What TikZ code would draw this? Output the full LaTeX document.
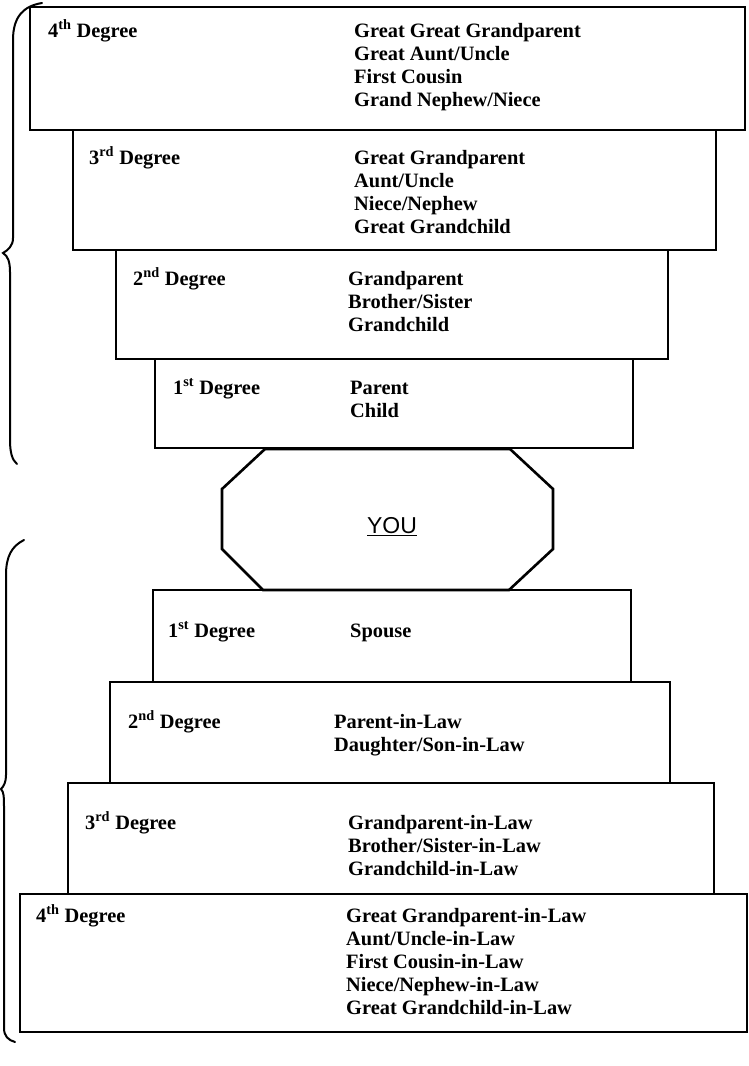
\documentclass[tikz,border=0pt]{standalone}
\usepackage{fontspec}
\setmainfont{Liberation Serif}
\newfontfamily\yousans{Liberation Sans}
\usetikzlibrary{positioning}

\begin{document}
\begin{tikzpicture}[x=1pt, y=-1pt,
    degbox/.style={draw, line width=1.3pt, inner sep=0pt},
    deglab/.style={anchor=base west, inner sep=0pt, font=\bfseries\fontsize{20.4}{23}\selectfont},
    rel/.style={deglab},
    octo/.style={draw, line width=2.6pt, line join=miter},
    brace/.style={draw, line width=2pt, line cap=round}]
\useasboundingbox (0,0) rectangle (749,1066);
% boxes, blood side on top, in-law side below
\foreach \nm/\xa/\ya/\xb/\yb in {u4/30/7/745/130, u3/73/130/716/250, u2/116/250/668/359, u1/155/359/633/448,
                                  l1/153/590/631/682, l2/110/682/670/783, l3/68/783/714/894, l4/20/894/747/1032} {
    \node[degbox, minimum width={\xb-\xa}, minimum height={\yb-\ya}] (\nm) at ({(\xa+\xb)/2},{(\ya+\yb)/2}) {};
}
% degree labels
\foreach \nm/\x/\y/\n/\sfx in {u4/48/37/4/th, u3/89/164/3/rd, u2/133/285/2/nd, u1/173/394/1/st,
                               l1/168/637/1/st, l2/128/728/2/nd, l3/85/829/3/rd, l4/36/922/4/th} {
    \node[deglab] (\nm lab) at (\x,\y) {\n\textsuperscript{\sfx}\ Degree};
}
% relatives
\foreach \nm/\x/\y/\items in {
    u4/354/37/{Great Great Grandparent,Great Aunt/Uncle,First Cousin,Grand Nephew/Niece},
    u3/354/164/{Great Grandparent,Aunt/Uncle,Niece/Nephew,Great Grandchild},
    u2/348/285/{Grandparent,Brother/Sister,Grandchild},
    u1/350/394/{Parent,Child},
    l1/350/637/{Spouse},
    l2/334/728/{Parent-in-Law,Daughter/Son-in-Law},
    l3/348/829/{Grandparent-in-Law,Brother/Sister-in-Law,Grandchild-in-Law},
    l4/346/922/{Great Grandparent-in-Law,Aunt/Uncle-in-Law,First Cousin-in-Law,Niece/Nephew-in-Law,Great Grandchild-in-Law}} {
    \foreach \t [count=\i from 0] in \items {
        \node[rel] (\nm-\i) at (\x,{\y+23*\i}) {\t};
    }
}
% you
\node[font=\yousans\fontsize{23}{26}\selectfont] (you) at (392,527) {\underline{YOU}};
\draw[octo] (265,449) -- (510,449) -- (553,489) -- (553,549) -- (509,590) -- (263,590) -- (222,549) -- (222,489) -- cycle;
% braces
\draw[brace] (42,3) .. controls (24,6) and (13,16) .. (13,40) -- (13,238) .. controls (13,246) and (8,250) .. (3,253)
    .. controls (8,256) and (10,262) .. (10,272) -- (10,440) .. controls (10,452) and (12,460) .. (17,464);
\draw[brace] (24,540) .. controls (12,546) and (6,556) .. (6,575) -- (6,775) .. controls (6,782) and (4,786) .. (1,789)
    .. controls (4,792) and (4,798) .. (4,806) -- (4,1028) .. controls (4,1036) and (8,1040) .. (15,1042);
\end{tikzpicture}
\end{document}
